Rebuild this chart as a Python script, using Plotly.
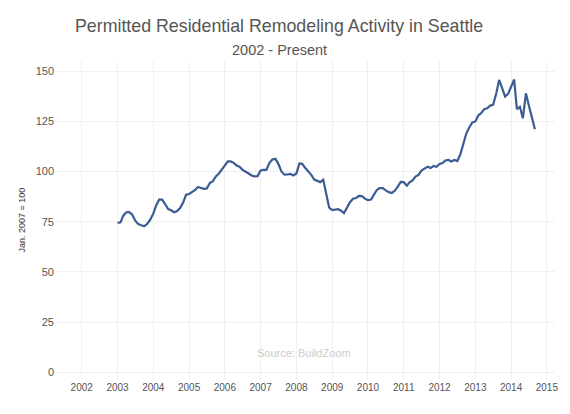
import pandas as pd
import plotly.graph_objects as go

start_month = "2003-01-01"
index_values = [
    74.4, 74.7, 78.0, 79.7, 79.8, 78.5, 75.5, 73.8, 73.2, 72.7, 74.0, 76.0,
    79.0, 83.2, 86.0, 86.0, 83.8, 81.3, 80.7, 79.7, 80.3, 81.8, 84.5, 88.4,
    88.8, 89.7, 90.7, 92.3, 91.7, 91.4, 91.6, 94.3, 95.2, 97.5, 99.0, 101.0,
    103.5, 105.0, 105.0, 104.3, 103.0, 102.3, 100.8, 100.0, 99.0, 98.0, 97.6, 97.7,
    100.5, 100.8, 100.8, 104.3, 106.0, 106.3, 103.8, 100.0, 98.4, 98.5, 98.8, 98.0,
    99.0, 104.0, 103.8, 101.7, 100.0, 98.3, 96.0, 95.5, 94.7, 95.9, 89.0, 82.0,
    80.8, 81.0, 81.2, 80.5, 79.3, 82.0, 84.7, 86.4, 86.8, 87.8, 87.7, 86.5,
    85.7, 86.0, 88.0, 90.8, 91.7, 91.7, 90.6, 89.7, 89.3, 90.4, 92.5, 94.8,
    94.7, 92.9, 94.6, 95.6, 97.5, 98.3, 100.5, 101.5, 102.4, 101.7, 102.7, 102.3,
    103.7, 104.2, 105.5, 105.8, 105.0, 105.7, 105.2, 108.5, 114.0, 119.0, 122.0, 124.4,
    124.9, 128.0, 129.0, 131.0, 131.5, 132.8, 133.2, 138.6, 145.6, 141.0, 137.3, 138.6,
    142.2, 145.8, 131.0, 132.2, 126.5, 138.9, 132.9, 127.0, 121.0,
]
year_ticks = [str(y) for y in range(2002, 2016)]
y_ticks = [0, 25, 50, 75, 100, 125, 150]

dates = pd.date_range(start_month, periods=len(index_values), freq="MS")

fig = go.Figure()
fig.add_trace(go.Scatter(
    x=dates, y=index_values, mode="lines",
    line=dict(color="#3a5b93", width=2.2),
    hoverinfo="skip", showlegend=False,
))

font = "Liberation Sans, Arial, Helvetica, sans-serif"
grid = "#f0f0f0"

# the page body has an 8px default margin, so the figure is sized to fit the window
fig.update_layout(
    width=562, height=406,
    margin=dict(l=47, r=15, t=53, b=34, autoexpand=False),
    paper_bgcolor="white", plot_bgcolor="white",
    font=dict(family=font, color="#555555", size=10),
    xaxis=dict(
        range=["2001-04-03", "2015-03-25"],
        tickvals=[f"{y}-01-01" for y in year_ticks],
        ticktext=year_ticks,
        showgrid=True, gridcolor=grid, gridwidth=1,
        zeroline=False, showline=False, ticks="",
        tickfont=dict(size=10, color="#555555"),
        automargin=False,
    ),
    yaxis=dict(
        range=[-3.8, 155],
        tickvals=y_ticks,
        showgrid=True, gridcolor=grid, gridwidth=1,
        zeroline=False, showline=False, ticks="",
        tickfont=dict(size=11, color="#555555"),
        automargin=False,
    ),
    annotations=[
        dict(text="Permitted Residential Remodeling Activity in Seattle",
             xref="paper", yref="paper", x=(279 - 55) / 500, y=1,
             yshift=35, xanchor="center", yanchor="middle", showarrow=False,
             font=dict(size=17.8, color="#555555", family=font)),
        dict(text="2002 - Present",
             xref="paper", yref="paper", x=(279 - 55) / 500, y=1,
             yshift=11, xanchor="center", yanchor="middle", showarrow=False,
             font=dict(size=14.5, color="#555555", family=font)),
        dict(text="Jan. 2007 = 100",
             xref="paper", yref="paper", x=(21 - 55) / 500, y=0.5,
             xanchor="center", yanchor="middle", showarrow=False, textangle=-90,
             font=dict(size=9, color="#333333", family=font)),
        dict(text="Source: BuildZoom",
             xref="x", yref="y", x="2008-03-15", y=9.5,
             xanchor="center", yanchor="middle", showarrow=False,
             font=dict(size=11, color="#cccccc", family=font)),
    ],
)

fig.write_html("out.html")
